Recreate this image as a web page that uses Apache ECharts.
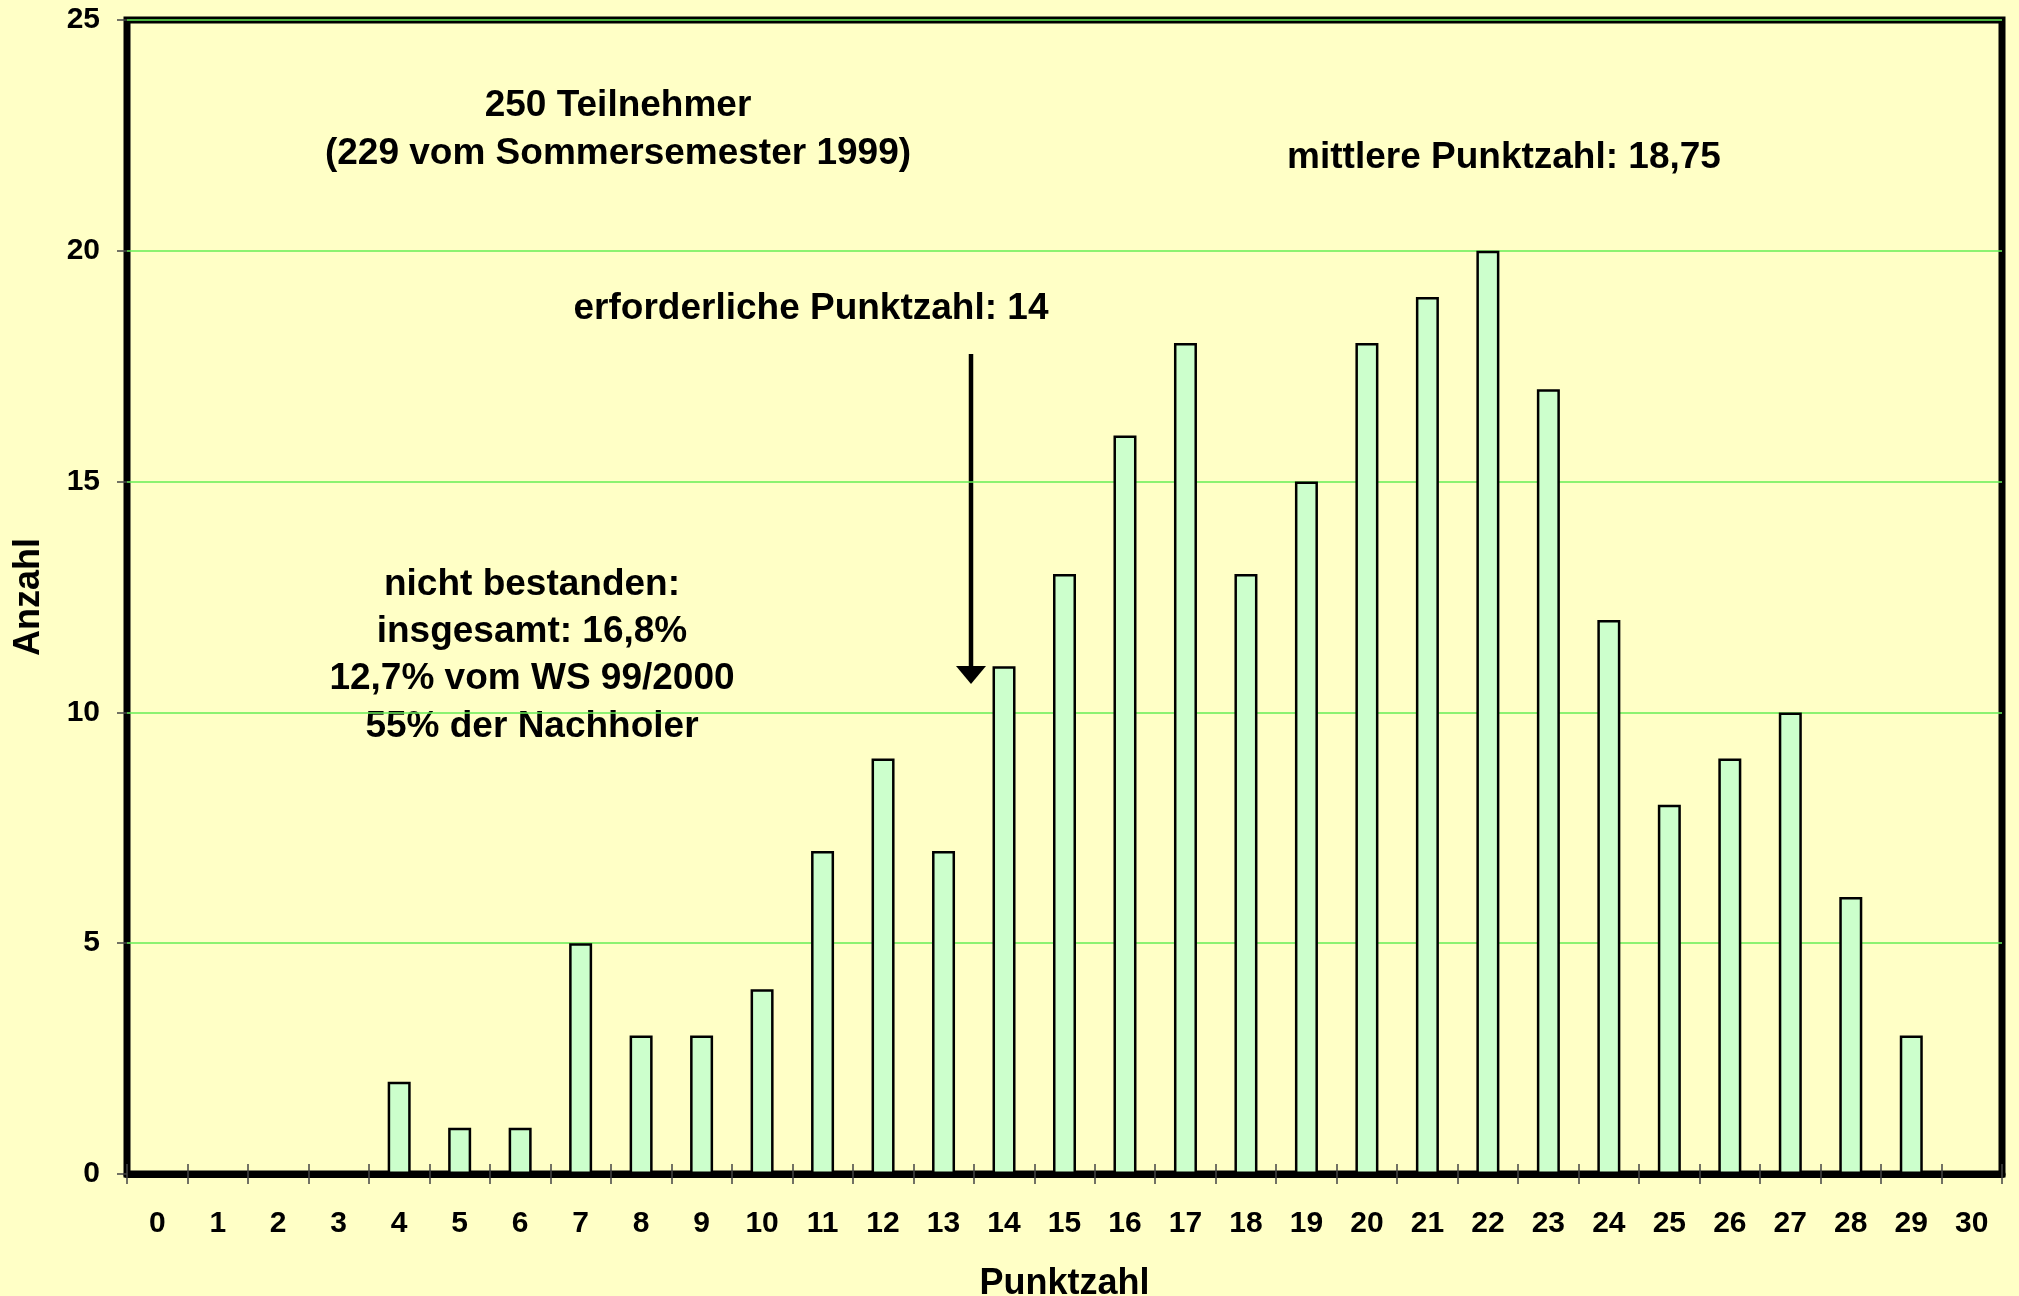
<!DOCTYPE html>
<html>
<head>
<meta charset="utf-8">
<script src="https://cdn.jsdelivr.net/npm/echarts@6/dist/echarts.min.js"></script>
<style>
  html, body { margin: 0; padding: 0; background: #FFFFC6; }
</style>
</head>
<body>

<div id="main" style="width: 2019px;height:1296px;"></div>

<script type="text/javascript">
    // Punktzahl 0..30
    var punkte = ['0', '1', '2', '3', '4', '5', '6', '7', '8', '9', '10', '11', '12', '13', '14', '15',
        '16', '17', '18', '19', '20', '21', '22', '23', '24', '25', '26', '27', '28', '29', '30'];
    // Anzahl der Teilnehmer pro Punktzahl
    var anzahl = [0, 0, 0, 0, 2, 1, 1, 5, 3, 3, 4, 7, 9, 7, 11, 13,
        16, 18, 13, 15, 18, 19, 20, 17, 12, 8, 9, 10, 6, 3, 0];
    var yTicks = [0, 5, 10, 15, 20, 25];

    var fontFam = '"Liberation Sans", Arial, sans-serif';
    var boldFont = 'bold 37px ' + fontFam;

    var myChart = echarts.init(document.getElementById('main'));

    function note(txt, x, y) {
        return {
            type: 'text', x: x, y: y,
            style: {text: txt, font: boldFont, fill: '#000', textAlign: 'center', textVerticalAlign: 'middle'}
        };
    }

    var option = {
        backgroundColor: '#FFFFC6',
        animation: false,
        grid: {
            left: 127,
            right: 17,
            top: 20,
            bottom: 122,
            outerBoundsMode: 'none',
            containLabel: false,
            show: true,
            borderColor: '#000',
            borderWidth: 7,
            backgroundColor: 'transparent'
        },
        xAxis: [
            {
                type: 'category',
                data: punkte,
                name: 'Punktzahl',
                nameLocation: 'middle',
                nameGap: 92,
                nameTextStyle: {fontFamily: fontFam, fontWeight: 'bold', fontSize: 36, color: '#000'},
                axisLine: {show: true, lineStyle: {color: '#000', width: 7}},
                axisTick: {show: true, length: 10, lineStyle: {color: '#444', width: 1.5}},
                axisLabel: {fontFamily: fontFam, fontWeight: 'bold', fontSize: 30, color: '#000', margin: 35, interval: 0},
                splitLine: {show: false}
            },
            {
                // inner tick marks
                type: 'category',
                data: punkte,
                position: 'bottom',
                axisLine: {show: false},
                axisTick: {show: true, inside: true, length: 10, lineStyle: {color: '#444', width: 1.5}},
                axisLabel: {show: false},
                splitLine: {show: false}
            }
        ],
        yAxis: {
            type: 'value',
            min: yTicks[0],
            max: yTicks[yTicks.length - 1],
            interval: 5,
            name: 'Anzahl',
            nameLocation: 'middle',
            nameGap: 80,
            nameTextStyle: {fontFamily: fontFam, fontWeight: 'bold', fontSize: 36, color: '#000'},
            axisLine: {show: false},
            axisTick: {show: true, length: 10, lineStyle: {color: '#444', width: 1.5}},
            axisLabel: {fontFamily: fontFam, fontWeight: 'bold', fontSize: 30, color: '#000', margin: 27},
            splitLine: {show: true, lineStyle: {color: '#66EE55', width: 1.5}}
        },
        series: [
            {
                name: 'Anzahl',
                type: 'bar',
                xAxisIndex: 0,
                data: anzahl,
                barWidth: 23,
                itemStyle: {color: '#CCFFCC', borderColor: '#000', borderWidth: 2.5}
            }
        ],
        graphic: [
            note('250 Teilnehmer', 618, 106),
            note('(229 vom Sommersemester 1999)', 618, 154),
            note('mittlere Punktzahl: 18,75', 1504, 158),
            note('erforderliche Punktzahl: 14', 811, 309),
            note('nicht bestanden:', 532, 585),
            note('insgesamt: 16,8%', 532, 632),
            note('12,7% vom WS 99/2000', 532, 679),
            note('55% der Nachholer', 532, 727),
            // arrow pointing to the required score
            {type: 'line', shape: {x1: 971, y1: 354, x2: 971, y2: 668}, style: {stroke: '#000', lineWidth: 4.5}},
            {type: 'polygon', shape: {points: [[956, 666], [986, 666], [971, 684]]}, style: {fill: '#000'}}
        ]
    };

    myChart.setOption(option);
</script>
</body>
</html>
